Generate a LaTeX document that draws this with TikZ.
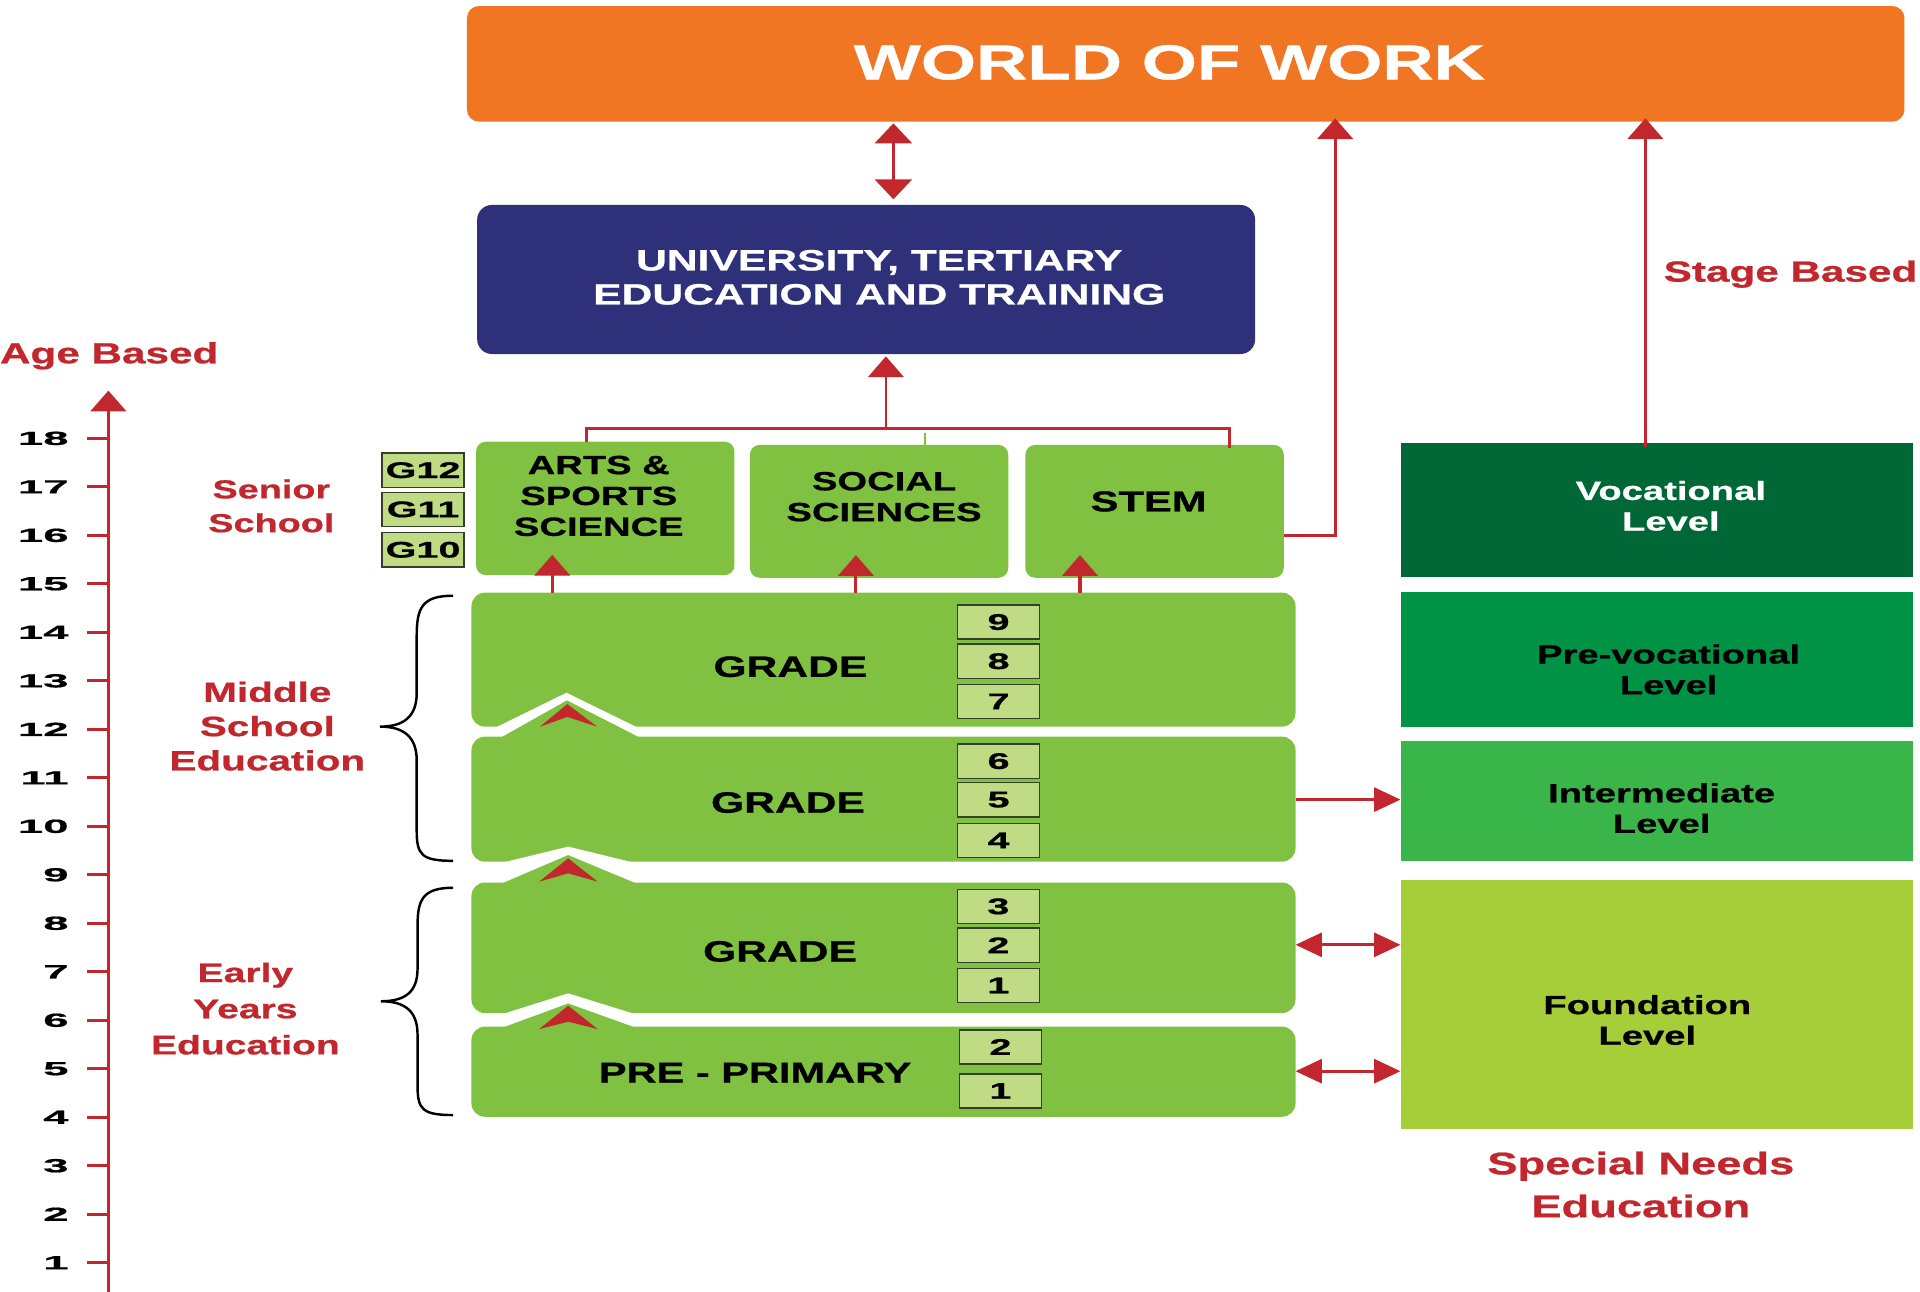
\documentclass[tikz,border=0pt]{standalone}
\usepackage{fontspec}
\usetikzlibrary{arrows.meta,calc}
\newfontfamily\fa{Liberation Sans}[FakeStretch=1.45,FakeBold=0.8]
\newfontfamily\fw{Liberation Sans}[FakeStretch=2.4,FakeBold=0.8]
\newfontfamily\fn{Liberation Sans}[FakeStretch=1.75,FakeBold=0.8]
\definecolor{cred}{HTML}{C1272D}
\definecolor{corange}{HTML}{F07623}
\definecolor{cnavy}{HTML}{2E3179}
\definecolor{cgreen}{HTML}{80C142}
\definecolor{cnum}{HTML}{BFDC85}
\definecolor{cnumb}{HTML}{34402A}
\definecolor{cvoc}{HTML}{006837}
\definecolor{cprev}{HTML}{009245}
\definecolor{cint}{HTML}{39B54A}
\definecolor{cfound}{HTML}{A6CE39}
\newcommand\fsz[2]{\fontsize{#1}{#2}\selectfont}
\begin{document}
\begin{tikzpicture}[x=1pt,y=-1pt,
  box/.style={rectangle, inner sep=0pt, outer sep=0pt},
  gbox/.style={box, fill=cgreen, rounded corners=11pt, minimum width=673pt},
  tbox/.style={box, fill=cgreen, rounded corners=8pt, minimum width=211pt, minimum height=108.5pt},
  sbox/.style={box, minimum width=418.3pt},
  numbox/.style={box, fill=cnum, draw=cnumb, line width=1.2pt, minimum width=67pt, minimum height=28pt, font=\fn\bfseries\fsz{18.5}{20}},
  txt/.style={inner sep=0pt, outer sep=0pt, align=center},
  gradet/.style={txt, font=\fa\bfseries\fsz{24}{28}},
  trackt/.style={txt, font=\fa\bfseries\fsz{21.5}{25.2}},
  levelt/.style={txt, font=\fa\bfseries\fsz{21.5}{25}},
  redt/.style={txt, text=cred},
  redline/.style={draw=cred, line width=2.5pt},
  upar/.style={redline, -{Triangle[length=17pt,width=29pt]}},
  dblv/.style={draw=cred, line width=3pt, {Triangle[length=16.3pt,width=30pt]}-{Triangle[length=16.3pt,width=30pt]}},
  sidear/.style={redline, -{Triangle[length=21.5pt,width=19.5pt]}},
  sidedbl/.style={redline, {Triangle[length=21.5pt,width=19.5pt]}-{Triangle[length=21.5pt,width=19.5pt]}},
  bracel/.style={draw=black, line width=2pt}
]
\useasboundingbox (0,0) rectangle (1568,1055);

% ---------- top boxes
\node[box, fill=corange, rounded corners=10pt, minimum width=1174pt, minimum height=94.5pt] (wow) at (968.3,52.15) {};
\node[txt, text=white, font=\fa\bfseries\fsz{40}{48}] (wowt) at (955,51) {WORLD OF WORK};
\node[box, fill=cnavy, rounded corners=12pt, minimum width=635.3pt, minimum height=121.7pt] (univ) at (707.35,228.25) {};
\node[txt, text=white, font=\fa\bfseries\fsz{24}{27.8}] (univt) at (718,226.5) {UNIVERSITY, TERTIARY\\EDUCATION AND TRAINING};

% ---------- senior tracks
\node[tbox, minimum width=211pt, minimum height=109pt] (arts) at (494.3,415.2) {};
\node[tbox] (soc) at (717.9,417.6) {};
\node[tbox] (stem) at (942.9,417.6) {};
\node[trackt] (artst) at (489,405) {ARTS \&\\SPORTS\\SCIENCE};
\node[trackt] (soct) at (722,405.6) {SOCIAL\\SCIENCES};
\node[trackt, font=\fa\bfseries\fsz{23.5}{28}] (stemt) at (938,409.5) {STEM};

\node[numbox] (g12) at (345.5,384) {G12};
\node[numbox] (g11) at (345.5,416) {G11};
\node[numbox] (g10) at (345.5,449) {G10};

% ---------- grade boxes
\node[gbox, minimum height=109.4pt] (gA) at (721.5,538.7) {};
\node[gbox, minimum height=102.1pt] (gB) at (721.5,652.65) {};
\node[gbox, minimum height=106.6pt] (gC) at (721.5,774) {};
\node[gbox, minimum height=73.6pt] (gD) at (721.5,875.2) {};

% chevron joints (white notch, green peak, red head)
\fill[white] (404,594.5) -- (462.6,565.7) -- (521.4,594.5) -- cycle;
\fill[cgreen] (407,603.5) -- (463,572) -- (524.7,603.5) -- cycle;
\fill[cred] (463.3,575) -- (487.6,593.4) -- (463.3,585.5) -- (441,593.4) -- cycle;

\fill[white] (409,704.8) -- (464,691.4) -- (519,704.8) -- cycle;
\fill[cgreen] (407.5,722.5) -- (464,698.3) -- (522,722.5) -- cycle;
\fill[cred] (464,701) -- (488.1,720) -- (464,713.2) -- (440.4,720) -- cycle;

\fill[white] (409,828.6) -- (464,811.2) -- (520,828.6) -- cycle;
\fill[cgreen] (407.5,840.3) -- (464,819.5) -- (522,840.3) -- cycle;
\fill[cred] (464,821.3) -- (488.1,840.4) -- (464,834.4) -- (440.4,840.4) -- cycle;

\node[gradet] (tA) at (645.5,544.5) {GRADE};
\node[gradet] (tB) at (643.5,655.4) {GRADE};
\node[gradet] (tC) at (637,777) {GRADE};
\node[gradet, font=\fa\bfseries\fsz{23.4}{28}] (tD) at (616.7,876) {PRE - PRIMARY};

\node[numbox] (n9) at (815.5,508) {9};
\node[numbox] (n8) at (815.5,540) {8};
\node[numbox] (n7) at (815.5,572.8) {7};
\node[numbox] (n6) at (815.5,621.6) {6};
\node[numbox] (n5) at (815.5,653.1) {5};
\node[numbox] (n4) at (815.5,686.3) {4};
\node[numbox] (n3) at (815.3,740.2) {3};
\node[numbox] (n2) at (815.3,772) {2};
\node[numbox] (n1) at (815.3,804.8) {1};
\node[numbox] (p2) at (817,855) {2};
\node[numbox] (p1) at (817,890.9) {1};

% ---------- special needs column
\node[sbox, fill=cvoc, minimum height=109pt] (voc) at (1352.9,416.5) {};
\node[sbox, fill=cprev, minimum height=109.8pt] (prev) at (1352.9,538.6) {};
\node[sbox, fill=cint, minimum height=98pt] (interm) at (1352.9,654) {};
\node[sbox, fill=cfound, minimum height=203pt] (found) at (1352.9,820.2) {};
\node[levelt, text=white] (voct) at (1364.5,413.1) {Vocational\\Level};
\node[levelt] (prevt) at (1362.7,546.7) {Pre-vocational\\Level};
\node[levelt] (intt) at (1357,660) {Intermediate\\Level};
\node[levelt] (foundt) at (1345.3,833) {Foundation\\Level};

% ---------- red labels
\node[redt, anchor=base west, font=\fa\bfseries\fsz{23.8}{28}] (age) at (0,296.7) {Age Based};
\node[redt, anchor=base west, font=\fa\bfseries\fsz{23.8}{28}] (stage) at (1358.7,230) {Stage Based};
\node[redt, font=\fa\bfseries\fsz{21.3}{27.6}] (senior) at (221.6,413.2) {Senior\\School};
\node[redt, font=\fa\bfseries\fsz{22.8}{28}] (middle) at (218.3,593) {Middle\\School\\Education};
\node[redt, font=\fa\bfseries\fsz{22}{29.5}] (early) at (200.4,823.7) {Early\\Years\\Education};
\node[redt, font=\fa\bfseries\fsz{25.5}{35}] (special) at (1340,967.4) {Special Needs\\Education};

% ---------- braces
\draw[bracel] (370,486.5) .. controls (344,486.5) and (340.3,497) .. (340.3,520) -- (340.3,566)
  .. controls (340.3,585) and (330,593.4) .. (310.3,593.4)
  .. controls (330,593.4) and (340.3,602) .. (340.3,621) -- (340.3,678)
  .. controls (340.3,698) and (344,703) .. (370,703);
\draw[bracel] (370,725) .. controls (345,725) and (341,735) .. (341,756) -- (341,791)
  .. controls (341,810) and (331,817.7) .. (311,817.7)
  .. controls (331,817.7) and (341,826) .. (341,845) -- (341,887)
  .. controls (341,906) and (345,910.6) .. (370,910.6);

% ---------- age axis
\coordinate (axb) at (88.5,1056);
\coordinate (axt) at (88.5,319);
\draw[draw=cred, line width=3pt, -{Triangle[length=17pt,width=29pt]}] (axb) -- (axt);
\foreach \n in {1,...,18}{
  \pgfmathsetmacro\yy{358+(18-\n)*39.6}
  \draw[redline] (71,\yy) -- (88.5,\yy);
  \node[txt, anchor=east, font=\fw\bfseries\fsz{15.5}{18}] (age\n) at (56,\yy) {\n};
}

% ---------- connectors
\draw[dblv, shorten <=4.6pt, shorten >=1.3pt] (univ.north -| 729.6,0) -- (wow.south -| 729.6,0);

\coordinate (barL) at (478.7,349.8);
\coordinate (barR) at (1004,349.8);
\coordinate (barRend) at (1004,366);
\draw[redline, line width=2.3pt] (arts.north -| barL) -- (barL) -- (barR) -- (barRend);
\draw[upar, line width=2.3pt, shorten >=1.9pt] (barL -| 723.5,0) -- (univ.south -| 723.5,0);
\draw[cgreen, line width=2pt] (755.6,354) -- (soc.north -| 755.6,0);

\draw[upar, shorten >=-2.8pt] (stem.east |- 0,437) -- (1090.4,437) -- (wow.south -| 1090.4,0);
\draw[upar, shorten >=-2.8pt, shorten <=-2.7pt] (voc.north -| 1343.7,0) -- (wow.south -| 1343.7,0);

\draw[upar, shorten >=-16.6pt] (gA.north -| 451,0) -- (arts.south -| 451,0);
\draw[upar, shorten >=-18.5pt] (gA.north -| 699,0) -- (soc.south -| 699,0);
\draw[upar, shorten >=-18.5pt] (gA.north -| 882,0) -- (stem.south -| 882,0);

\draw[sidear] (gB.east |- 0,653) -- (interm.west |- 0,653);
\draw[sidedbl] (gC.east |- 0,771.6) -- (found.west |- 0,771.6);
\draw[sidedbl] (gD.east |- 0,874.8) -- (found.west |- 0,874.8);
\end{tikzpicture}
\end{document}
